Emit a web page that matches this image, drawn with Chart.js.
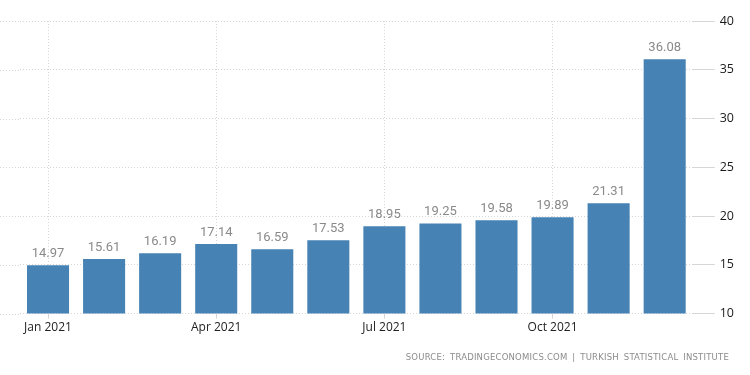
<!DOCTYPE html>
<html>
<head>
<meta charset="utf-8">
<script src="https://cdn.jsdelivr.net/npm/chart.js@4"></script>
<style>
  html, body { margin: 0; padding: 0; background: #fff; }
  #wrap { position: relative; width: 750px; height: 375px; }
  #source {
    position: absolute; right: 21px; top: 352px;
    font: 8.5px "DejaVu Sans", sans-serif; color: #8c8c8c;
    letter-spacing: 0.2px; word-spacing: 2px;
    white-space: nowrap;
  }
</style>
</head>
<body>
<div id="wrap">
  <canvas id="bar_Chart" width="750" height="375"></canvas>
  <div id="source">SOURCE: TRADINGECONOMICS.COM | TURKISH STATISTICAL INSTITUTE</div>
</div>
<script>
// dados do gráfico
const months = ['Jan 2021', 'Feb 2021', 'Mar 2021', 'Apr 2021', 'May 2021', 'Jun 2021',
  'Jul 2021', 'Aug 2021', 'Sep 2021', 'Oct 2021', 'Nov 2021', 'Dec 2021'];
const inflation = [14.97, 15.61, 16.19, 17.14, 16.59, 17.53, 18.95, 19.25, 19.58, 19.89, 21.31, 36.08];
const yTicks = [10, 15, 20, 25, 30, 35, 40];

const gridColor = '#d6d6d6';

// rótulos de valor acima das barras
const valueLabels = {
  id: 'valueLabels',
  afterDatasetsDraw(chart) {
    const ctx = chart.ctx;
    const meta = chart.getDatasetMeta(0);
    ctx.save();
    ctx.font = '13px Roboto, sans-serif';
    ctx.fillStyle = '#8a8a8a';
    ctx.textAlign = 'center';
    ctx.textBaseline = 'bottom';
    meta.data.forEach((bar, i) => {
      ctx.fillText(inflation[i].toFixed(2), bar.x, bar.y - 5);
    });
    ctx.restore();
  }
};

// prolonga as linhas horizontais até a borda esquerda
const leftGrid = {
  id: 'leftGrid',
  beforeDatasetsDraw(chart) {
    const ctx = chart.ctx;
    const y = chart.scales.y;
    ctx.save();
    ctx.strokeStyle = gridColor;
    ctx.lineWidth = 1;
    ctx.setLineDash([1, 2]);
    y.ticks.forEach(t => {
      const py = Math.round(y.getPixelForValue(t.value)) + 0.5;
      ctx.beginPath();
      ctx.moveTo(0, py);
      ctx.lineTo(chart.chartArea.left, py);
      ctx.stroke();
    });
    ctx.restore();
  }
};

const config = {
  type: 'bar',
  data: {
    labels: months,
    datasets: [{
      data: inflation,
      backgroundColor: '#4682b4',
      categoryPercentage: 1,
      barPercentage: 0.75
    }]
  },
  options: {
    responsive: false,
    animation: false,
    layout: { padding: { top: 21, right: 11, bottom: 38, left: 20 } },
    plugins: {
      legend: { display: false },
      tooltip: { enabled: false }
    },
    scales: {
      x: {
        grid: {
          offset: false,
          color: c => (c.index % 3 === 0 ? gridColor : 'rgba(0,0,0,0)'),
          tickLength: 5,
          tickColor: c => (c.index % 3 === 0 ? gridColor : 'rgba(0,0,0,0)')
        },
        border: { display: false, dash: [1, 2] },
        ticks: {
          autoSkip: false,
          maxRotation: 0,
          padding: 2,
          color: '#222',
          font: { family: 'Open Sans', size: 12 },
          callback: function (v, i) { return i % 3 === 0 ? this.getLabelForValue(v) : ''; }
        }
      },
      y: {
        position: 'right',
        min: 10,
        max: 40,
        afterBuildTicks: axis => { axis.ticks = yTicks.map(v => ({ value: v })); },
        grid: { color: gridColor, tickLength: 22, tickColor: gridColor },
        border: { display: false, dash: [1, 2] },
        ticks: {
          padding: 5,
          color: '#1a1a1a',
          font: { family: 'Open Sans', size: 12.5 }
        }
      }
    }
  },
  plugins: [leftGrid, valueLabels]
};

const myChart = new Chart(document.getElementById('bar_Chart'), config);
</script>
</body>
</html>
